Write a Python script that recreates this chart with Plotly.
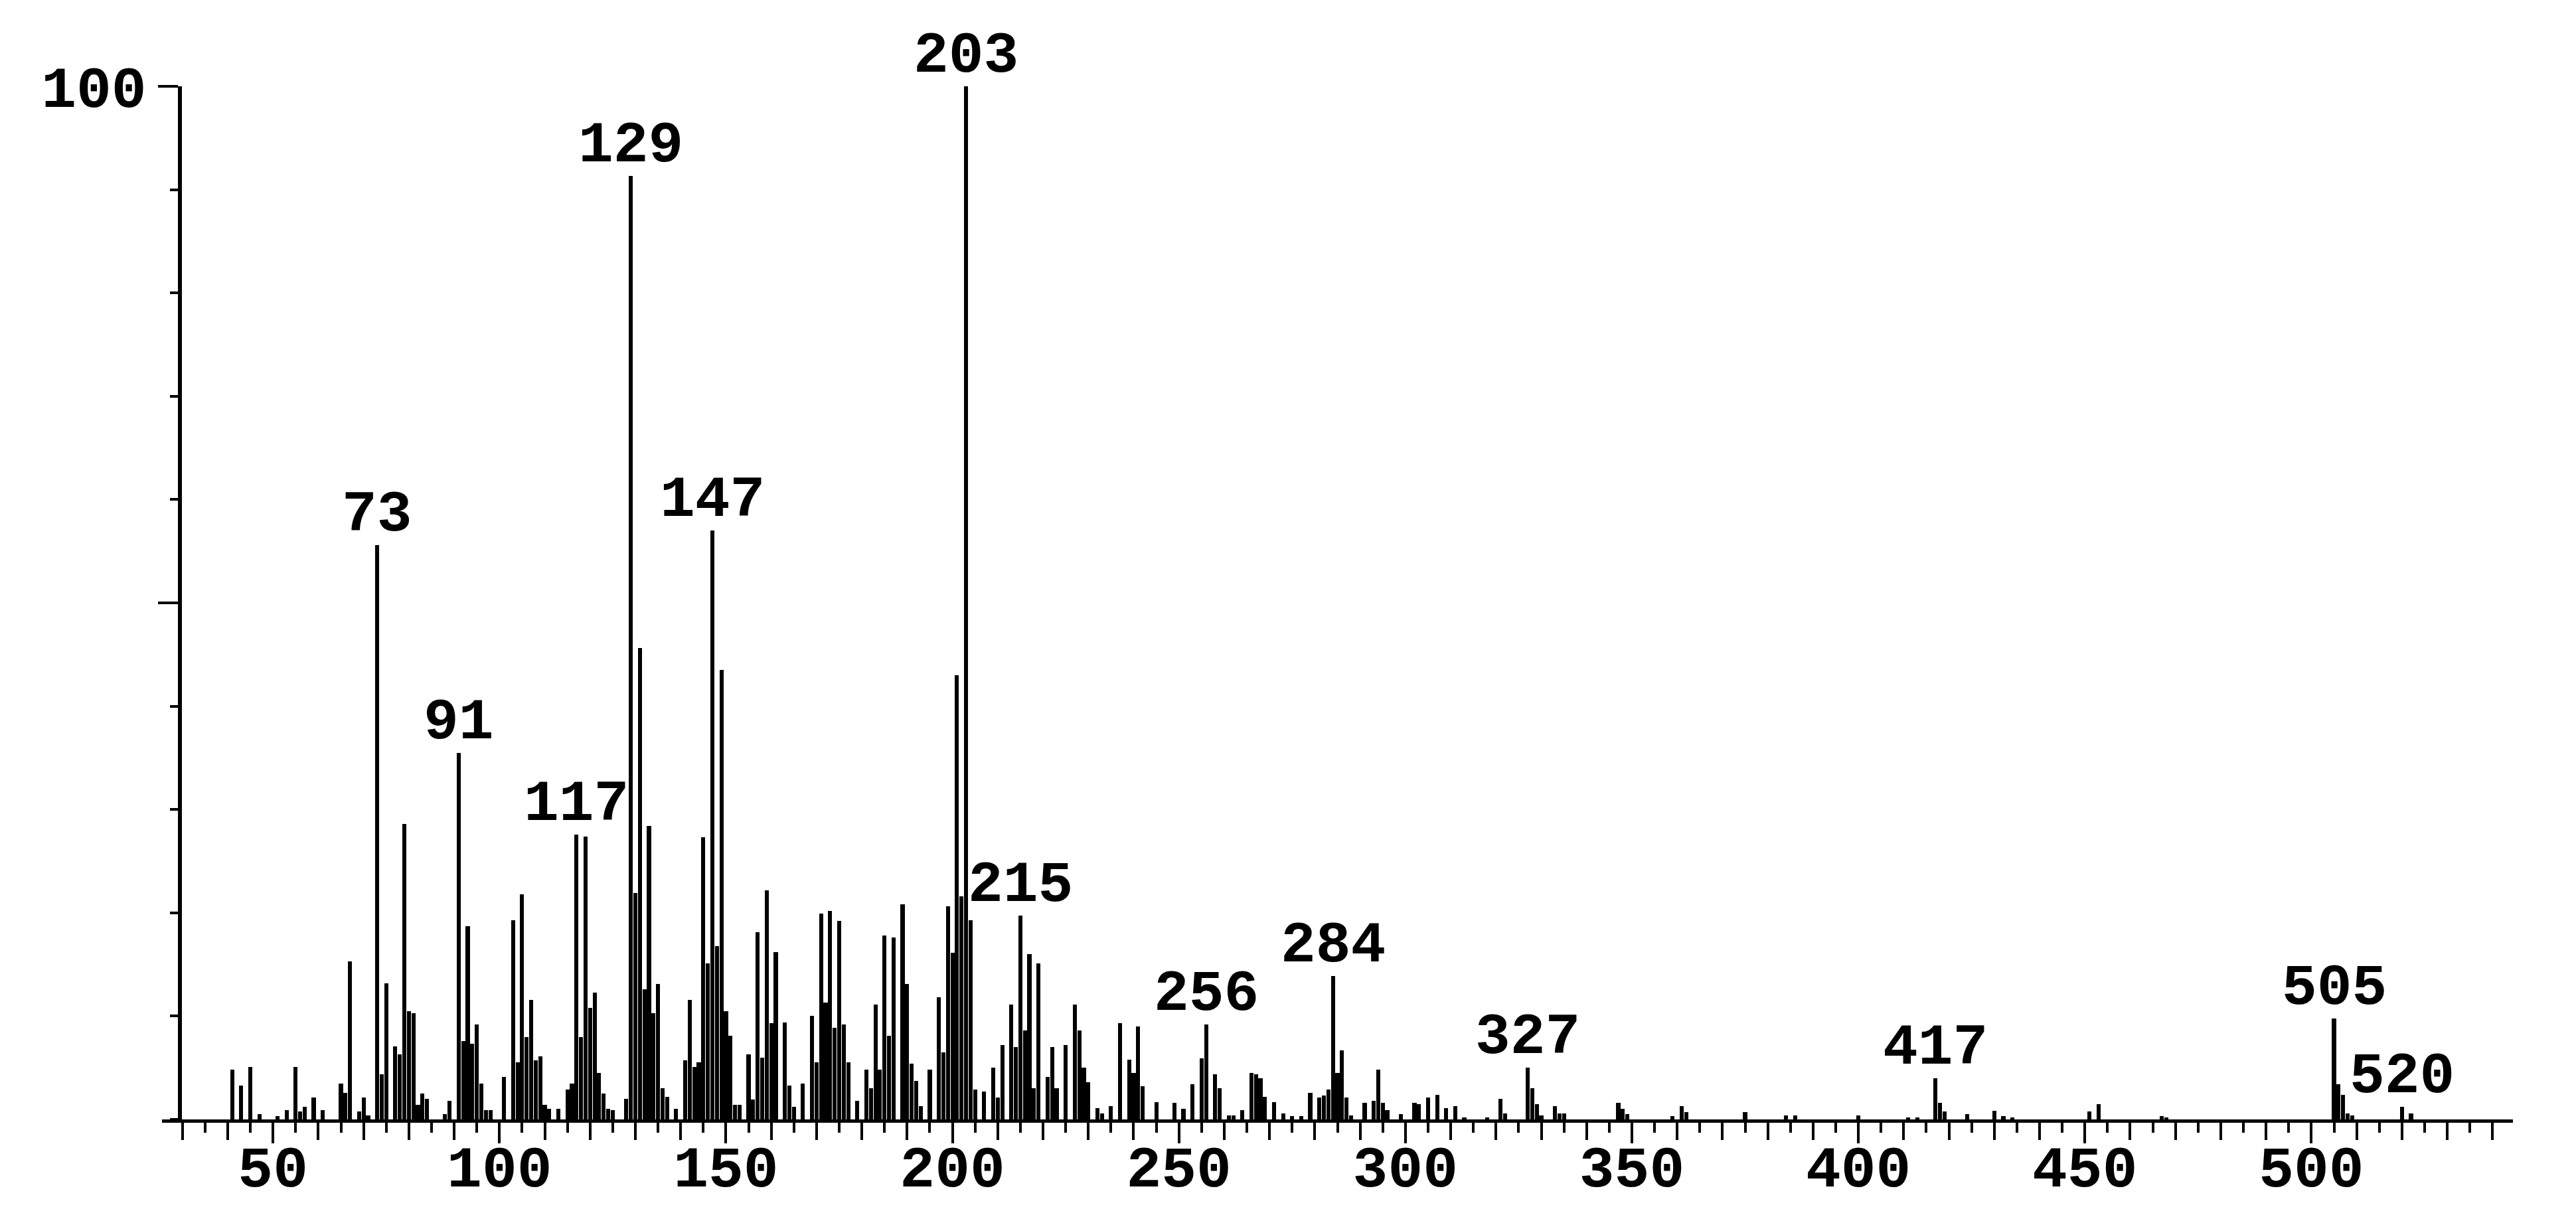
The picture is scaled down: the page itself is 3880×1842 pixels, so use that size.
import plotly.graph_objects as go

# m/z values and relative intensities (%)
mz = [41, 43, 45, 47, 51, 53, 55, 56, 57, 59, 61, 65, 66, 67, 69, 70, 71,
      73, 74, 75, 77, 78, 79, 80, 81, 82, 83, 84, 88, 89, 91, 92, 93, 94,
      95, 96, 97, 98, 101, 103, 104, 105, 106, 107, 108, 109, 110, 111, 113,
      115, 116, 117, 118, 119, 120, 121, 122, 123, 124, 125, 128, 129, 130,
      131, 132, 133, 134, 135, 136, 137, 139, 141, 142, 143, 144, 145, 146,
      147, 148, 149, 150, 151, 152, 153, 155, 156, 157, 158, 159, 160, 161,
      163, 164, 165, 167, 169, 170, 171, 172, 173, 174, 175, 176, 177, 179,
      181, 182, 183, 184, 185, 186, 187, 189, 190, 191, 192, 193, 195, 197,
      198, 199, 200, 201, 202, 203, 204, 205, 207, 209, 210, 211, 213, 214,
      215, 216, 217, 218, 219, 221, 222, 223, 225, 227, 228, 229, 230, 232,
      233, 235, 237, 239, 240, 241, 242, 245, 249, 251, 253, 255, 256, 258,
      259, 261, 262, 264, 266, 267, 268, 269, 271, 273, 275, 277, 279, 281,
      282, 283, 284, 285, 286, 287, 288, 291, 293, 294, 295, 296, 299, 302,
      303, 305, 307, 309, 311, 313, 318, 321, 322, 327, 328, 329, 330, 333,
      334, 335, 347, 348, 349, 359, 361, 362, 375, 384, 386, 400, 411, 413,
      417, 418, 419, 424, 430, 432, 434, 451, 453, 467, 468, 505, 506, 507,
      508, 509, 520, 522]
intensity = [4.8, 3.3, 5.1, 0.5, 0.3, 0.9, 5.1, 0.8, 1.2, 2.1, 0.9, 3.5, 2.6,
             15.3, 0.8, 2.1, 0.4, 55.6, 4.4, 13.2, 7.1, 6.3, 28.6, 10.5, 10.3,
             1.4, 2.5, 2.0, 0.5, 1.8, 35.5, 7.6, 18.7, 7.3, 9.2, 3.5, 0.9, 0.9,
             4.1, 19.3, 5.5, 21.8, 8.0, 11.6, 5.7, 6.1, 1.4, 1.0, 1.0, 2.9,
             3.5, 27.6, 8.0, 27.4, 10.8, 12.3, 4.5, 2.5, 1.0, 0.9, 2.0, 91.3,
             21.9, 45.6, 12.6, 28.4, 10.3, 13.1, 3.0, 2.2, 1.0, 5.7, 11.6, 5.1,
             5.5, 27.3, 15.1, 57.0, 16.8, 43.5, 10.5, 8.1, 1.4, 1.4, 6.3, 1.9,
             18.1, 6.0, 22.2, 9.3, 16.2, 9.4, 3.3, 1.2, 3.5, 10.0, 5.5, 19.9,
             11.3, 20.2, 8.9, 19.2, 9.2, 5.5, 1.8, 4.8, 3.0, 11.1, 4.8, 17.8,
             8.1, 17.6, 20.8, 13.1, 5.4, 3.7, 1.3, 4.8, 11.8, 6.5, 20.6, 16.1,
             43.0, 21.6, 100.0, 19.3, 2.9, 2.7, 5.0, 2.1, 7.2, 11.1, 7.0, 19.7,
             8.6, 16.0, 3.0, 15.1, 4.1, 7.0, 3.0, 7.2, 11.1, 8.6, 5.0, 3.6,
             1.1, 0.6, 1.3, 9.3, 5.8, 4.5, 9.0, 3.2, 1.7, 1.6, 1.0, 3.4, 5.9,
             9.2, 4.4, 3.0, 0.4, 0.4, 0.9, 4.5, 4.4, 4.0, 2.2, 1.7, 0.6, 0.3,
             0.3, 2.6, 2.1, 2.3, 2.9, 13.9, 4.5, 6.7, 2.1, 0.4, 1.6, 1.8, 4.8,
             1.6, 0.9, 0.5, 1.6, 1.5, 2.1, 2.4, 1.1, 1.3, 0.2, 0.2, 2.0, 0.6,
             5.0, 3.0, 1.5, 0.4, 1.3, 0.6, 0.6, 1.6, 1.0, 0.5, 0.3, 1.3, 0.7,
             0.7, 0.4, 0.4, 0.4, 0.2, 0.2, 4.0, 1.6, 0.75, 0.5, 0.85, 0.3, 0.2,
             0.75, 1.5, 0.3, 0.2, 9.8, 3.4, 2.4, 0.6, 0.4, 1.2, 0.6]

labelled = [73, 91, 117, 129, 147, 203, 215, 256, 284, 327, 417, 505, 520]

x_ticks = [50, 100, 150, 200, 250, 300, 350, 400, 450, 500]
y_ticks = [50, 100]
y_ticktext = ["", "100"]

FONT = dict(family="Liberation Mono", size=88, color="black", weight="bold")
x_range = [25.5, 544.5]

peaks = dict(zip(mz, intensity))

fig = go.Figure()
fig.add_trace(go.Bar(x=mz, y=intensity, width=0.9,
                     marker=dict(color="black", line=dict(width=0)),
                     showlegend=False, hoverinfo="x+y"))
# empty traces so the extra tick axes (every 5/10 and every 50) get drawn
fig.add_trace(go.Scatter(x=[None], y=[None], xaxis="x2", showlegend=False,
                         hoverinfo="skip"))
fig.add_trace(go.Scatter(x=[None], y=[None], xaxis="x3", showlegend=False,
                         hoverinfo="skip"))

for m in labelled:
    fig.add_annotation(x=m, y=peaks[m], text=str(m), showarrow=False,
                       xanchor="center", yanchor="bottom", yshift=-6,
                       font=FONT)

tick_axis = dict(range=x_range, overlaying="x", anchor="y", side="bottom",
                 tick0=0, ticks="outside", tickwidth=4, tickcolor="black",
                 showticklabels=False, showline=False, showgrid=False,
                 zeroline=False, automargin=False)

# page body adds 8px offset, so margins are shifted back by 8
fig.update_layout(
    template="none",
    width=3880, height=1842,
    margin=dict(l=236, r=103, t=122, b=164, autoexpand=False),
    plot_bgcolor="white", paper_bgcolor="white",
    bargap=0,
    # labels only; the line and ticks come from the overlay axes
    xaxis=dict(range=x_range, tickvals=x_ticks, ticks="", showline=False,
               anchor="free", position=0, ticklabelstandoff=12,
               showgrid=False, zeroline=False, tickfont=FONT,
               automargin=False),
    xaxis2=dict(tick_axis, dtick=10, ticklen=26, showline=True, linewidth=5,
                linecolor="black",
                minor=dict(tick0=0, dtick=5, ticks="outside", ticklen=15,
                           tickwidth=4, tickcolor="black", showgrid=False)),
    xaxis3=dict(tick_axis, dtick=50, ticklen=35),
    yaxis=dict(range=[0, 100], anchor="free",
               position=(29.5 - x_range[0]) / (x_range[1] - x_range[0]),
               tickvals=y_ticks, ticktext=y_ticktext, ticks="outside",
               ticklen=30, tickwidth=4, tickcolor="black", showline=True,
               linewidth=6, linecolor="black", showgrid=False, zeroline=False,
               tickfont=FONT, automargin=False,
               minor=dict(tick0=0, dtick=10, ticks="outside", ticklen=12,
                          tickwidth=4, tickcolor="black", showgrid=False)),
)

fig.write_html("out.html")
